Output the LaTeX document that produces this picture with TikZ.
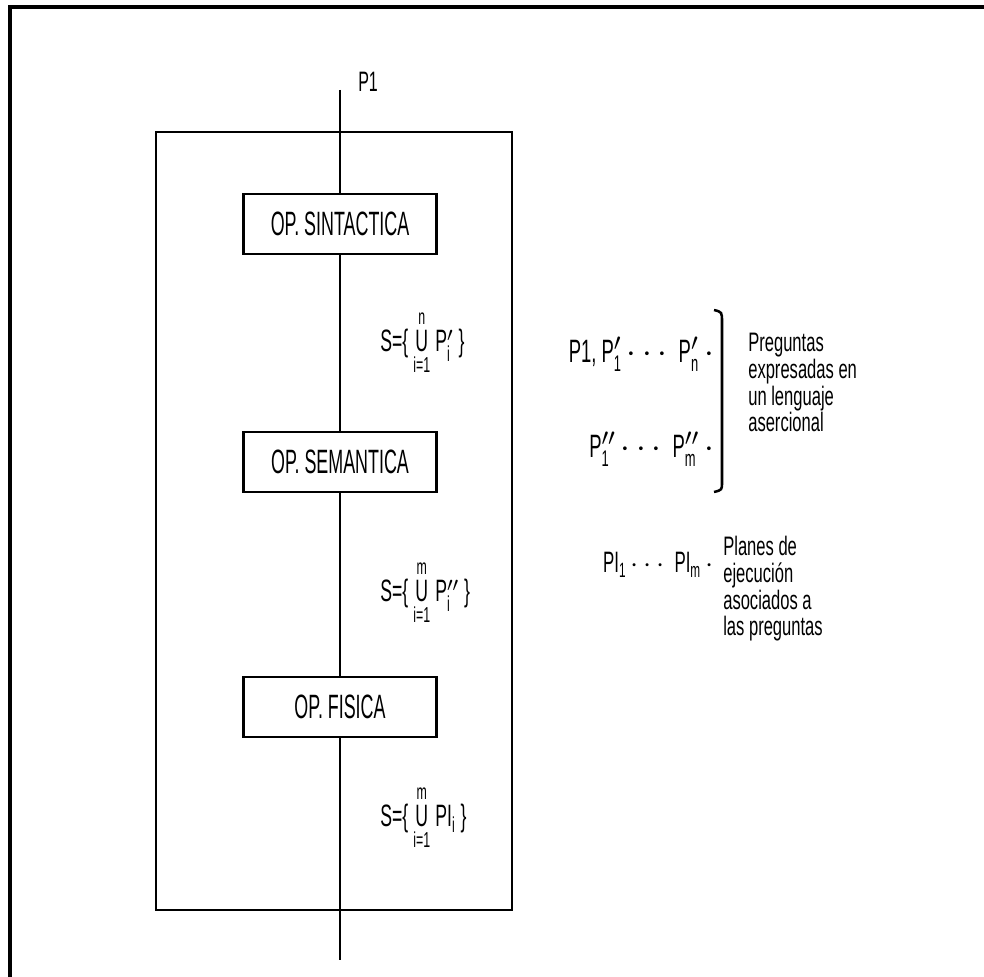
\documentclass[tikz,border=0pt]{standalone}
\usepackage{amsmath}
\usepackage{fontspec}
\setmainfont{Liberation Sans}[FakeStretch=0.57]
\newfontfamily\boxfont{Liberation Sans}[FakeStretch=0.53]
\newfontfamily\notefont{Liberation Sans}[FakeStretch=0.62]
\usetikzlibrary{positioning}

\newcommand{\unionof}[2]{\ensuremath{\mathop{\text{U}}\limits^{\text{#1}}_{\text{#2}}}}

\begin{document}
\begin{tikzpicture}[x=0.025cm, y=-0.025cm,
  opbox/.style={draw, line width=1.8pt, minimum width=4.83cm, minimum height=1.5cm,
                font=\boxfont\fontsize{24}{28}\selectfont, inner sep=0pt},
  formula/.style={font=\fontsize{22}{26}\selectfont, anchor=west, inner sep=0pt},
  question/.style={font=\fontsize{23}{26}\selectfont, anchor=east, inner sep=0pt},
  note/.style={font=\notefont\fontsize{19}{19}\selectfont, align=left, anchor=north west, inner sep=0pt},
  flow/.style={line width=1.8pt}
]
\useasboundingbox (0,0) rectangle (984,977);
% marco exterior
\draw[line width=2.5pt] (10,977) -- (10,7) -- (984,7);
% caja del sistema
\draw[line width=1.8pt] (156,132) rectangle (512,910);

\coordinate (top) at (340,90);
\coordinate (bottom) at (340,960);
\node[anchor=west, font=\fontsize{20}{24}\selectfont, inner sep=0pt] (p1) at (358,82) {P1};

\node[opbox, fill=white] (op1) at (340,224) {OP. SINTACTICA};
\node[opbox, fill=white] (op2) at (340,462) {OP. SEMANTICA};
\node[opbox, fill=white] (op3) at (340,707) {OP. FISICA};

\draw[flow] (top) -- (op1);
\draw[flow] (op1) -- (op2);
\draw[flow] (op2) -- (op3);
\draw[flow] (op3) -- (bottom);

% conjuntos intermedios
\node[formula] (s1) at (380,343) {S=\{\,\unionof{n}{i=1}\,P$'_{\text{i}}$\,\}};
\node[formula] (s2) at (380,593) {S=\{\,\unionof{m}{i=1}\,P$''_{\text{i}}$\,\}};
\node[formula] (s3) at (380,818) {S=\{\,\unionof{m}{i=1}\,PI$_{\text{i}}$\,\}};

% leyenda
\node[question] (q1) at (714,354) {P1, P$'_{\text{1}}$ $\cdots$ P$'_{\text{n}}$ $\cdot$};
\node[question] (q2) at (714,449) {P$''_{\text{1}}$ $\cdots$ P$''_{\text{m}}$ $\cdot$};
\draw[line width=1.8pt] (714,310) .. controls (722,312) .. (722,322) -- (722,482)
  .. controls (722,490) .. (714,492);
\node[note] (n1) at (748,333) {Preguntas\\expresadas en\\un lenguaje\\asercional};

\node[question, font=\fontsize{21}{24}\selectfont] (q3) at (714,565) {PI$_{\text{1}}$ $\cdots$ PI$_{\text{m}}$ $\cdot$};
\node[note] (n2) at (723,536) {Planes de\\ejecución\\asociados a\\las preguntas};
\end{tikzpicture}
\end{document}
